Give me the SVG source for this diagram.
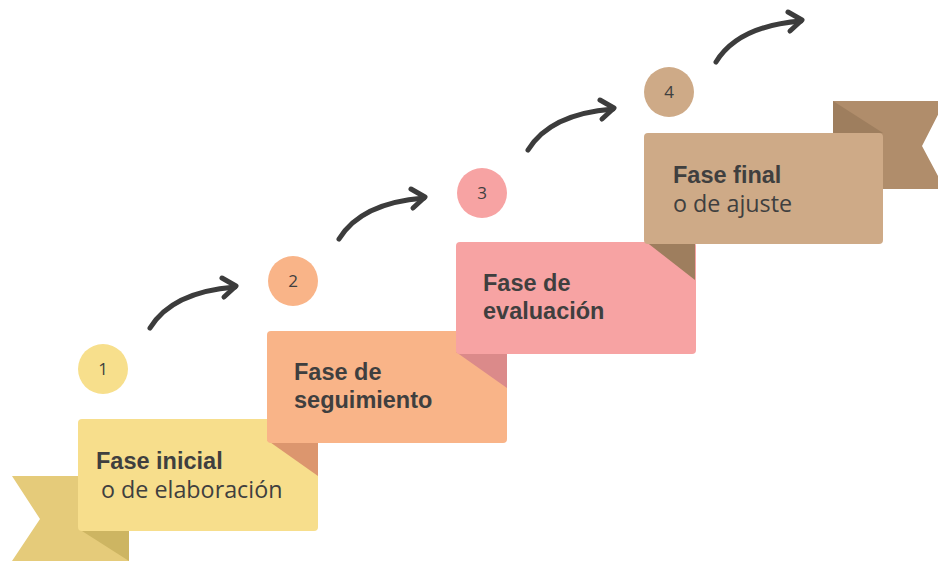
<svg xmlns="http://www.w3.org/2000/svg" width="938" height="561" viewBox="0 0 938 561">
<defs>
<style>
.t{fill:#3f3f3f}
.b{font-family:"Liberation Sans","Open Sans",sans-serif;font-weight:700;font-size:23.5px}
.n{font-family:"Open Sans","Liberation Sans",sans-serif;font-weight:400;font-size:23.3px}
.num{font-family:"Open Sans","Liberation Sans",sans-serif;font-size:17px;fill:#3f3f3f;text-anchor:middle}
.arr{fill:none;stroke:#3c3c3c;stroke-width:5;stroke-linecap:round;stroke-linejoin:round}
</style>
</defs>
<rect width="938" height="561" fill="#ffffff"/>
<g id="tail-left">
<polygon points="12,476 129,476 129,561 12,561 40,519" fill="#E5CB7A"/>
<polygon points="82,531 129,531 129,561" fill="#CDB562"/>
</g>
<g id="tail-right">
<polygon points="833,101 945,101 922,146 945,189 833,189" fill="#B08D6B"/>
<polygon points="833,101 883,133 833,133" fill="#9E7E5E"/>
</g>
<g id="node1">
<rect x="78" y="419" width="240" height="112" rx="4" fill="#F7DE8C"/>
<circle cx="103" cy="369" r="25" fill="#F7DF8C"/>
<text class="num" x="103" y="375">1</text>
<text class="t b" x="96" y="469">Fase inicial</text>
<text class="t n" x="101" y="498">o de elaboración</text>
</g>
<g id="node2">
<polygon points="267,440 318,440 318,476" fill="#DC966E"/>
<rect x="267" y="331" width="240" height="112" rx="4" fill="#F9B488"/>
<circle cx="293" cy="281" r="25" fill="#F9B488"/>
<text class="num" x="293" y="287">2</text>
<text class="t b" x="294" y="380">Fase de</text>
<text class="t b" x="294" y="408">seguimiento</text>
</g>
<g id="node3">
<polygon points="456,352 507,352 507,388" fill="#DB8A8A"/>
<rect x="456" y="242" width="240" height="112" rx="4" fill="#F7A3A3"/>
<circle cx="482" cy="193" r="25" fill="#F7A3A3"/>
<text class="num" x="482" y="199">3</text>
<text class="t b" x="483" y="291">Fase de</text>
<text class="t b" x="483" y="319">evaluación</text>
</g>
<g id="node4">
<polygon points="645,241 695,241 695,280" fill="#9E7E5E"/>
<rect x="644" y="133" width="239" height="111" rx="4" fill="#CEAA87"/>
<circle cx="669" cy="92" r="25" fill="#CEAA87"/>
<text class="num" x="669" y="98">4</text>
<text class="t b" x="673" y="183">Fase final</text>
<text class="t n" x="673" y="212">o de ajuste</text>
</g>
<g id="connectors">
<g id="a1">
<path class="arr" d="M150,328 Q172,292 235,287"/>
<path class="arr" d="M222,278 L236,286 L224,297"/>
</g>
<g id="a2" transform="translate(189,-89)">
<path class="arr" d="M150,328 Q172,292 235,287"/>
<path class="arr" d="M222,278 L236,286 L224,297"/>
</g>
<g id="a3" transform="translate(378,-178)">
<path class="arr" d="M150,328 Q172,292 235,287"/>
<path class="arr" d="M222,278 L236,286 L224,297"/>
</g>
<g id="a4" transform="translate(566,-266)">
<path class="arr" d="M150,328 Q172,292 235,287"/>
<path class="arr" d="M222,278 L236,286 L224,297"/>
</g>
</g>
</svg>
